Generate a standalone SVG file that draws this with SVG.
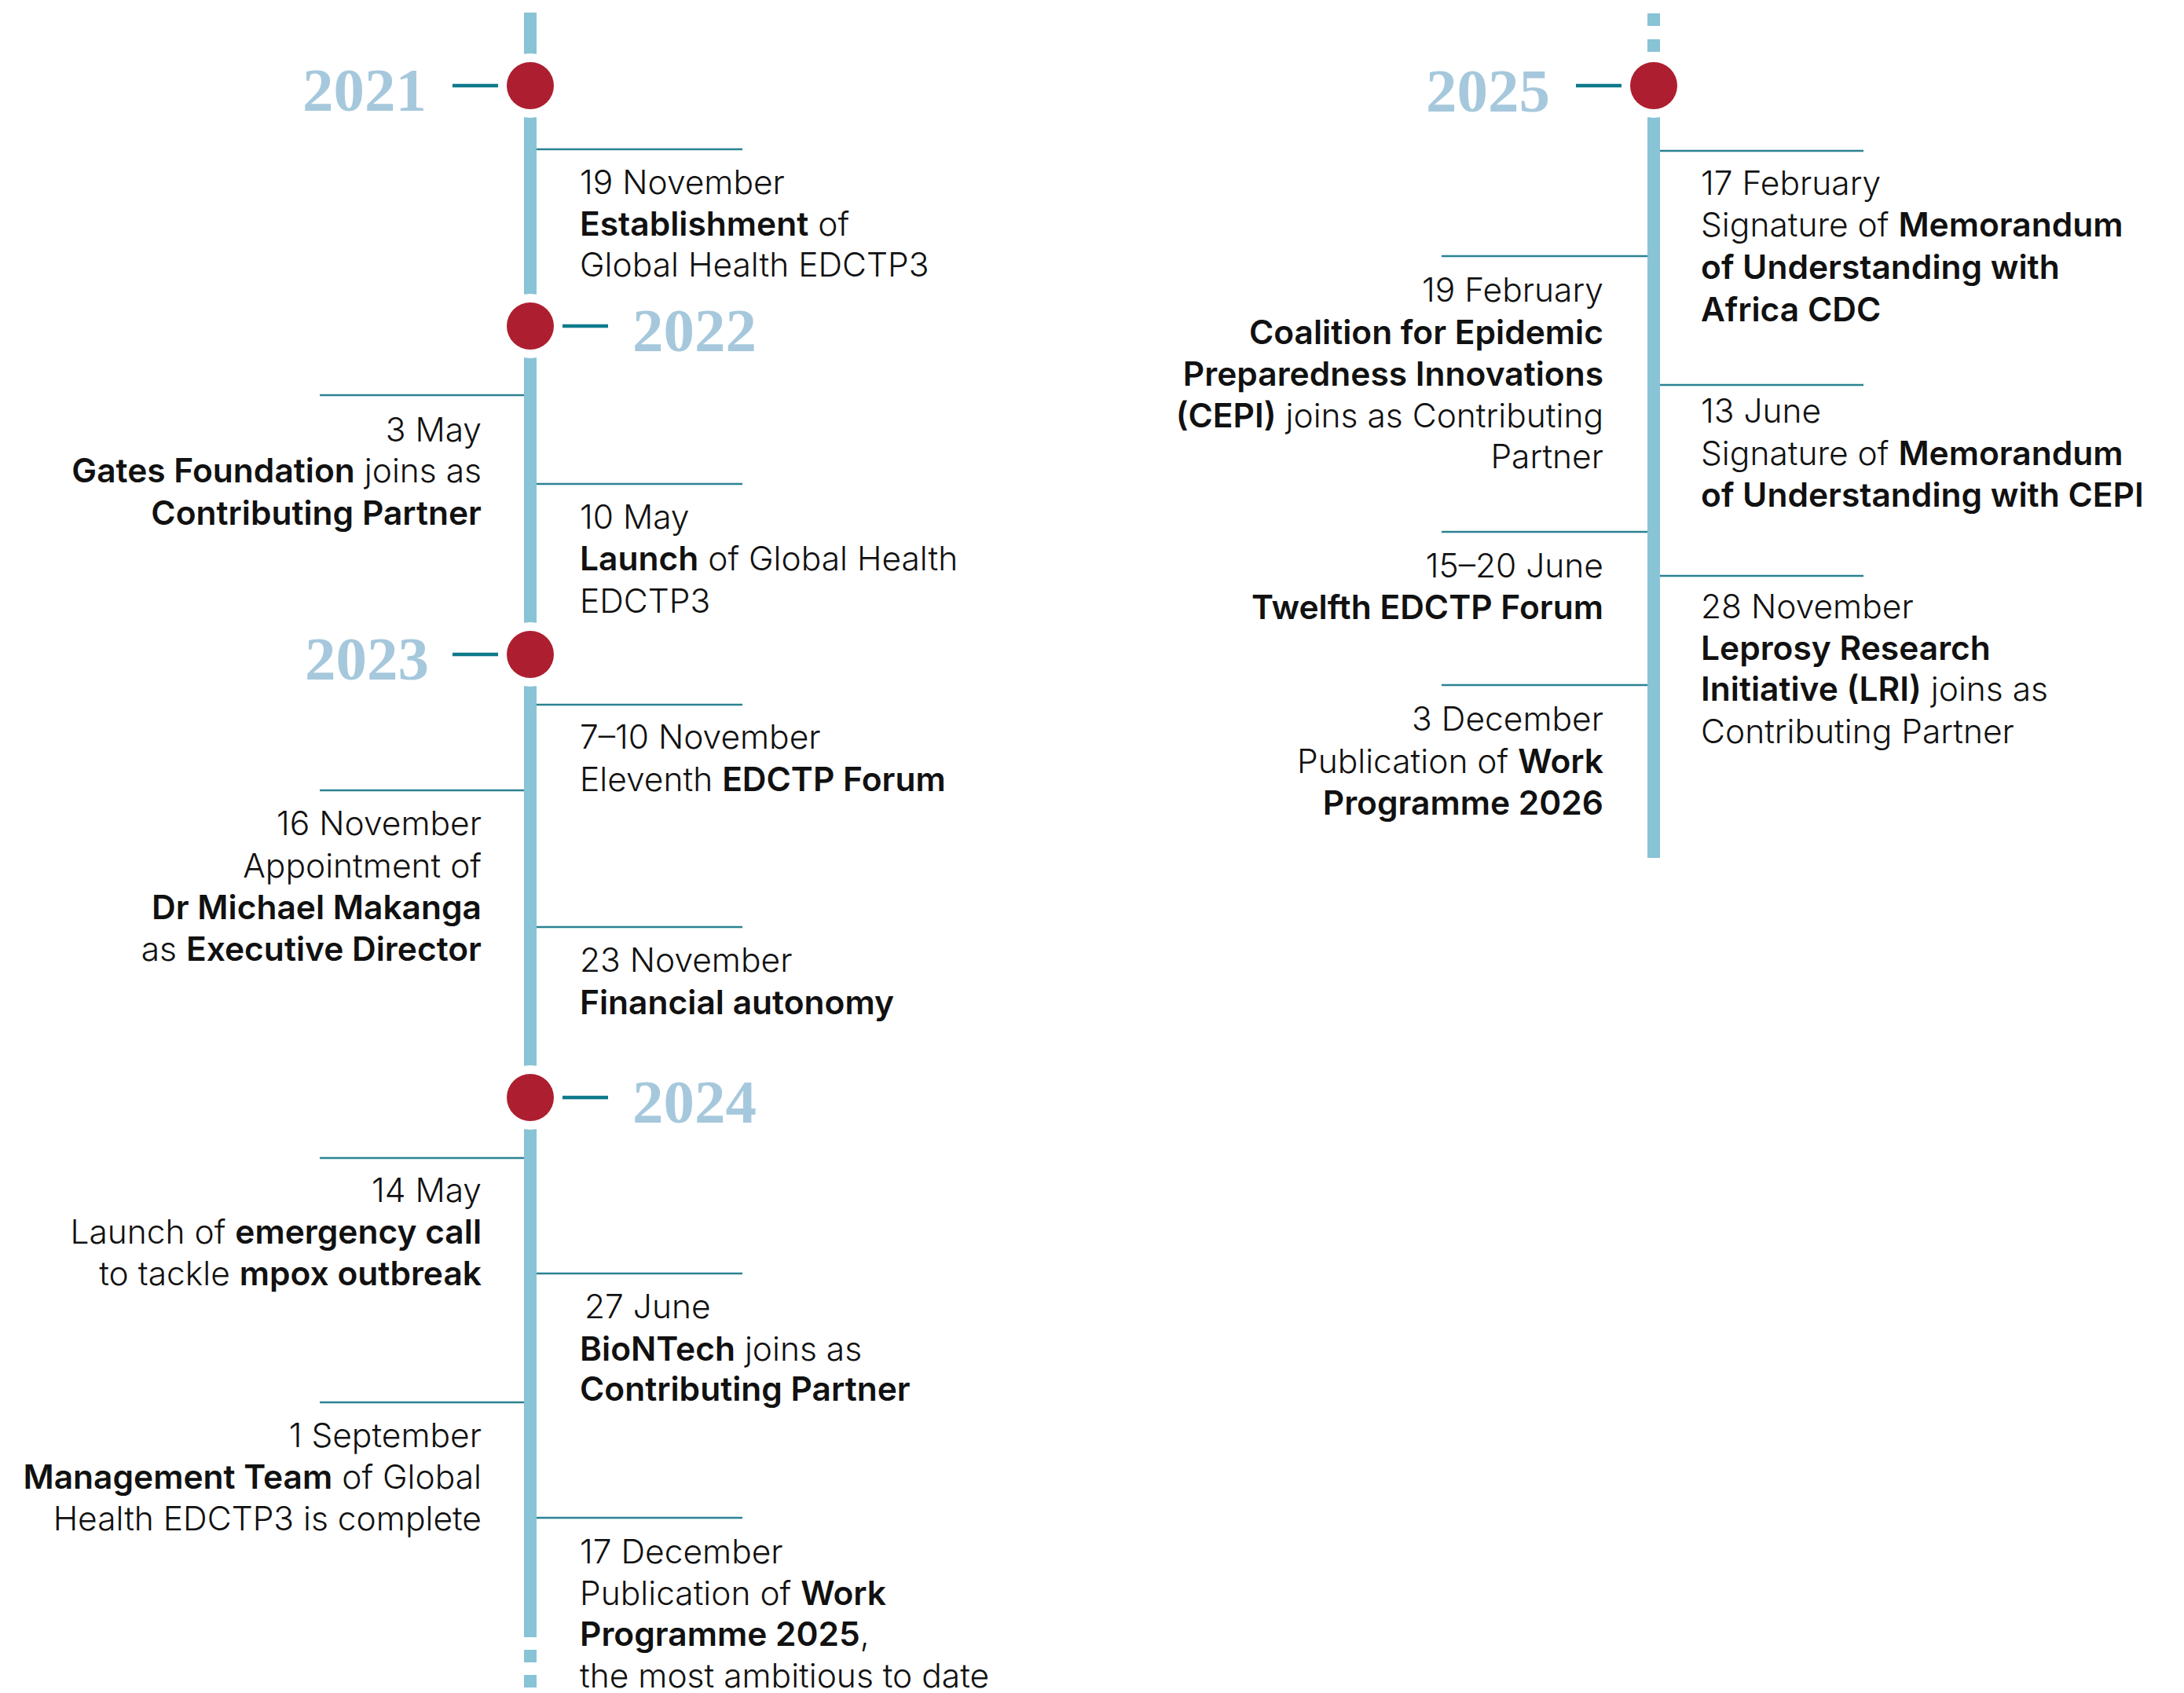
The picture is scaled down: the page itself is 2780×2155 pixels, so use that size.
<svg xmlns="http://www.w3.org/2000/svg" width="2780" height="2155" viewBox="0 0 2780 2155">
<style>
.tl{stroke:#88c3d6;stroke-width:16;fill:none}
.cn{stroke:#2b8292;stroke-width:2.5;fill:none}
.yd{stroke:#0e7a8c;stroke-width:4.5;fill:none}
.gap{fill:#ffffff}
.dot{fill:#ad1f30}
.yr{font-family:"Liberation Serif",serif;font-size:79px;font-weight:bold;fill:#a6c8dc}
.t{font-family:Inter,"Liberation Sans",sans-serif;font-size:42.5px;font-weight:300;fill:#111111}
.b{font-weight:600}
.e{text-anchor:end}
</style>
<rect width="2780" height="2155" fill="#ffffff"/>
<g id="connectors">
  <line class="tl" x1="675" y1="16" x2="675" y2="2084"/>
  <line class="tl" x1="675" y1="2100" x2="675" y2="2116"/>
  <line class="tl" x1="675" y1="2132" x2="675" y2="2148"/>
  <line class="tl" x1="2105" y1="17" x2="2105" y2="33"/>
  <line class="tl" x1="2105" y1="50" x2="2105" y2="66"/>
  <line class="tl" x1="2105" y1="90" x2="2105" y2="1092"/>
  <line class="yd" x1="576" y1="109" x2="634" y2="109"/>
  <line class="yd" x1="716" y1="415" x2="774" y2="415"/>
  <line class="yd" x1="576" y1="833" x2="634" y2="833"/>
  <line class="yd" x1="716" y1="1397" x2="774" y2="1397"/>
  <line class="yd" x1="2006" y1="109" x2="2064" y2="109"/>
  <line class="cn" x1="683" y1="190" x2="945" y2="190"/>
  <line class="cn" x1="407" y1="503" x2="667" y2="503"/>
  <line class="cn" x1="683" y1="616" x2="945" y2="616"/>
  <line class="cn" x1="683" y1="897" x2="945" y2="897"/>
  <line class="cn" x1="407" y1="1006" x2="667" y2="1006"/>
  <line class="cn" x1="683" y1="1180" x2="945" y2="1180"/>
  <line class="cn" x1="407" y1="1474" x2="667" y2="1474"/>
  <line class="cn" x1="683" y1="1621" x2="945" y2="1621"/>
  <line class="cn" x1="407" y1="1785" x2="667" y2="1785"/>
  <line class="cn" x1="683" y1="1932" x2="945" y2="1932"/>
  <line class="cn" x1="2113" y1="192" x2="2372" y2="192"/>
  <line class="cn" x1="1835" y1="326" x2="2097" y2="326"/>
  <line class="cn" x1="2113" y1="490" x2="2372" y2="490"/>
  <line class="cn" x1="1835" y1="677" x2="2097" y2="677"/>
  <line class="cn" x1="2113" y1="733" x2="2372" y2="733"/>
  <line class="cn" x1="1835" y1="872" x2="2097" y2="872"/>
</g>
<g id="y2021"><circle class="gap" cx="675" cy="109" r="41"/><circle class="dot" cx="675" cy="109" r="30"/><text class="yr e" x="543" y="141">2021</text></g>
<g id="y2022"><circle class="gap" cx="675" cy="415" r="41"/><circle class="dot" cx="675" cy="415" r="30"/><text class="yr" x="805" y="447">2022</text></g>
<g id="y2023"><circle class="gap" cx="675" cy="833" r="41"/><circle class="dot" cx="675" cy="833" r="30"/><text class="yr e" x="546" y="865">2023</text></g>
<g id="y2024"><circle class="gap" cx="675" cy="1397" r="41"/><circle class="dot" cx="675" cy="1397" r="30"/><text class="yr" x="805" y="1429">2024</text></g>
<g id="y2025"><circle class="gap" cx="2105" cy="109" r="41"/><circle class="dot" cx="2105" cy="109" r="30"/><text class="yr e" x="1973" y="142">2025</text></g>
<g id="e2021-11-19" class="t">
  <text x="738" y="247">19 November</text>
  <text x="738" y="300"><tspan class="b">Establishment</tspan> of</text>
  <text x="738" y="352">Global Health EDCTP3</text>
</g>
<g id="e2022-05-03" class="t e">
  <text x="613" y="562">3 May</text>
  <text x="613" y="614"><tspan class="b">Gates Foundation</tspan> joins as</text>
  <text x="613" y="668" class="b">Contributing Partner</text>
</g>
<g id="e2022-05-10" class="t">
  <text x="738" y="673">10 May</text>
  <text x="738" y="726"><tspan class="b">Launch</tspan> of Global Health</text>
  <text x="738" y="780">EDCTP3</text>
</g>
<g id="e2023-11-07" class="t">
  <text x="738" y="953">7–10 November</text>
  <text x="738" y="1007">Eleventh <tspan class="b">EDCTP Forum</tspan></text>
</g>
<g id="e2023-11-16" class="t e">
  <text x="613" y="1063">16 November</text>
  <text x="613" y="1117">Appointment of</text>
  <text x="613" y="1170" class="b">Dr Michael Makanga</text>
  <text x="613" y="1223">as <tspan class="b">Executive Director</tspan></text>
</g>
<g id="e2023-11-23" class="t">
  <text x="738" y="1237">23 November</text>
  <text x="738" y="1291" class="b">Financial autonomy</text>
</g>
<g id="e2024-05-14" class="t e">
  <text x="613" y="1530">14 May</text>
  <text x="613" y="1583">Launch of <tspan class="b">emergency call</tspan></text>
  <text x="613" y="1636">to tackle <tspan class="b">mpox outbreak</tspan></text>
</g>
<g id="e2024-06-27" class="t">
  <text x="744" y="1678">27 June</text>
  <text x="738" y="1732"><tspan class="b">BioNTech</tspan> joins as</text>
  <text x="738" y="1783" class="b">Contributing Partner</text>
</g>
<g id="e2024-09-01" class="t e">
  <text x="613" y="1842">1 September</text>
  <text x="613" y="1895"><tspan class="b">Management Team</tspan> of Global</text>
  <text x="613" y="1948">Health EDCTP3 is complete</text>
</g>
<g id="e2024-12-17" class="t">
  <text x="738" y="1990">17 December</text>
  <text x="738" y="2043">Publication of <tspan class="b">Work</tspan></text>
  <text x="738" y="2095"><tspan class="b">Programme 2025</tspan>,</text>
  <text x="738" y="2148">the most ambitious to date</text>
</g>
<g id="e2025-02-17" class="t">
  <text x="2165" y="248">17 February</text>
  <text x="2165" y="301">Signature of <tspan class="b">Memorandum</tspan></text>
  <text x="2165" y="355" class="b">of Understanding with</text>
  <text x="2165" y="409" class="b">Africa CDC</text>
</g>
<g id="e2025-02-19" class="t e">
  <text x="2041" y="384">19 February</text>
  <text x="2041" y="438" class="b">Coalition for Epidemic</text>
  <text x="2041" y="491" class="b">Preparedness Innovations</text>
  <text x="2041" y="544"><tspan class="b">(CEPI)</tspan> joins as Contributing</text>
  <text x="2041" y="596">Partner</text>
</g>
<g id="e2025-06-13" class="t">
  <text x="2165" y="538">13 June</text>
  <text x="2165" y="592">Signature of <tspan class="b">Memorandum</tspan></text>
  <text x="2165" y="645" class="b">of Understanding with CEPI</text>
</g>
<g id="e2025-06-15" class="t e">
  <text x="2041" y="735">15–20 June</text>
  <text x="2041" y="788" class="b">Twelfth EDCTP Forum</text>
</g>
<g id="e2025-11-28" class="t">
  <text x="2165" y="787">28 November</text>
  <text x="2165" y="840" class="b">Leprosy Research</text>
  <text x="2165" y="892"><tspan class="b">Initiative (LRI)</tspan> joins as</text>
  <text x="2165" y="946">Contributing Partner</text>
</g>
<g id="e2025-12-03" class="t e">
  <text x="2041" y="930">3 December</text>
  <text x="2041" y="984">Publication of <tspan class="b">Work</tspan></text>
  <text x="2041" y="1037" class="b">Programme 2026</text>
</g>
</svg>
